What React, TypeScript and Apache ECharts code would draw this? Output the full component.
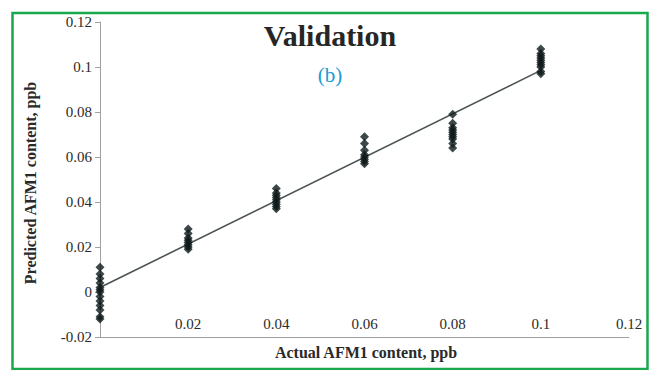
import React, { useEffect, useRef } from "react";
import * as echarts from "echarts";

const actualLevels = [0, 0.02, 0.04, 0.06, 0.08, 0.1];
const predicted0 = [0.011, 0.008, 0.006, 0.004, 0.002, 0.001, 0, -0.002, -0.004, -0.006, -0.008, -0.011, -0.012];
const predicted002 = [0.028, 0.026, 0.024, 0.023, 0.022, 0.021, 0.02, 0.019];
const predicted004 = [0.046, 0.044, 0.043, 0.042, 0.041, 0.04, 0.039, 0.038, 0.037];
const predicted006 = [0.069, 0.066, 0.063, 0.061, 0.06, 0.059, 0.058, 0.057];
const predicted008 = [0.079, 0.075, 0.073, 0.072, 0.071, 0.07, 0.069, 0.068, 0.066, 0.064];
const predicted010 = [0.108, 0.106, 0.105, 0.104, 0.103, 0.102, 0.101, 0.1, 0.098, 0.097];
const fitX = [0, 0.1];
const fitY = [0.002, 0.0985];

const columns = [predicted0, predicted002, predicted004, predicted006, predicted008, predicted010];

const SERIF = "'Liberation Serif', 'DejaVu Serif', serif";

export default function App() {
  const ref = useRef<HTMLDivElement>(null);
  useEffect(() => {
    if (!ref.current) return;
    const chart = echarts.init(ref.current, undefined, { renderer: "svg" });
    const points: number[][] = [];
    columns.forEach((col, i) => col.forEach((v) => points.push([actualLevels[i], v])));
    const fitData = fitX.map((x, i) => [x, fitY[i]]);
    chart.setOption({
      animation: false,
      backgroundColor: "#ffffff",
      grid: { left: 100, right: 21, top: 22, bottom: 33 },
      xAxis: [
        {
          type: "value",
          min: 0,
          max: 0.12,
          interval: 0.02,
          axisLine: { show: false },
          axisTick: { show: false },
          splitLine: { show: false },
          axisLabel: {
            inside: true,
            margin: 6,
            fontFamily: SERIF,
            fontSize: 15,
            color: "#2a2a2a",
            formatter: (v: number) => (v === 0 ? "" : String(+v.toFixed(2))),
          },
        },
        {
          type: "value",
          min: 0,
          max: 0.12,
          interval: 0.02,
          position: "bottom",
          axisLine: { show: true, onZero: true, lineStyle: { color: "#a0a0a0", width: 1 } },
          axisTick: { show: false },
          axisLabel: { show: false },
          splitLine: { show: false },
        },
      ],
      yAxis: {
        type: "value",
        min: -0.02,
        max: 0.12,
        interval: 0.02,
        axisLine: { show: true, onZero: false, lineStyle: { color: "#a0a0a0", width: 1 } },
        axisTick: { show: true, length: 5, lineStyle: { color: "#a0a0a0" } },
        splitLine: { show: false },
        axisLabel: {
          margin: 8,
          fontFamily: SERIF,
          fontSize: 15,
          color: "#2a2a2a",
          formatter: (v: number) => String(+v.toFixed(2)),
        },
      },
      series: [
        {
          type: "line",
          data: fitData,
          xAxisIndex: 0,
          showSymbol: false,
          symbol: "none",
          lineStyle: { color: "#4a5454", width: 1.6 },
          z: 2,
        },
        {
          type: "scatter",
          data: points,
          xAxisIndex: 0,
          symbol: "diamond",
          symbolSize: 9,
          itemStyle: { color: "#0f1a1a" },
          z: 3,
        },
      ],
      graphic: [
        {
          type: "rect",
          shape: { x: 12.5, y: 13, width: 635, height: 356 },
          style: { fill: "none", stroke: "#1aa84f", lineWidth: 2.5 },
          silent: true,
        },
        {
          type: "text",
          x: 330,
          y: 35,
          style: {
            text: "Validation",
            font: `bold 30px ${SERIF}`,
            fill: "#262626",
            align: "center",
            verticalAlign: "middle",
          },
        },
        {
          type: "text",
          x: 330,
          y: 75,
          style: {
            text: "(b)",
            font: `21px ${SERIF}`,
            fill: "#1b9ad6",
            align: "center",
            verticalAlign: "middle",
          },
        },
        {
          type: "text",
          x: 366,
          y: 352,
          style: {
            text: "Actual AFM1 content, ppb",
            font: `bold 16px ${SERIF}`,
            fill: "#2a2a2a",
            align: "center",
            verticalAlign: "middle",
          },
        },
        {
          type: "text",
          x: 30,
          y: 183,
          rotation: Math.PI / 2,
          style: {
            text: "Predicted AFM1 content, ppb",
            font: `bold 16px ${SERIF}`,
            fill: "#2a2a2a",
            align: "center",
            verticalAlign: "middle",
          },
        },
      ],
    });
    return () => chart.dispose();
  }, []);
  return (
    <div
      ref={ref}
      style={{ position: "absolute", left: 0, top: 0, width: 650, height: 370 }}
    />
  );
}
